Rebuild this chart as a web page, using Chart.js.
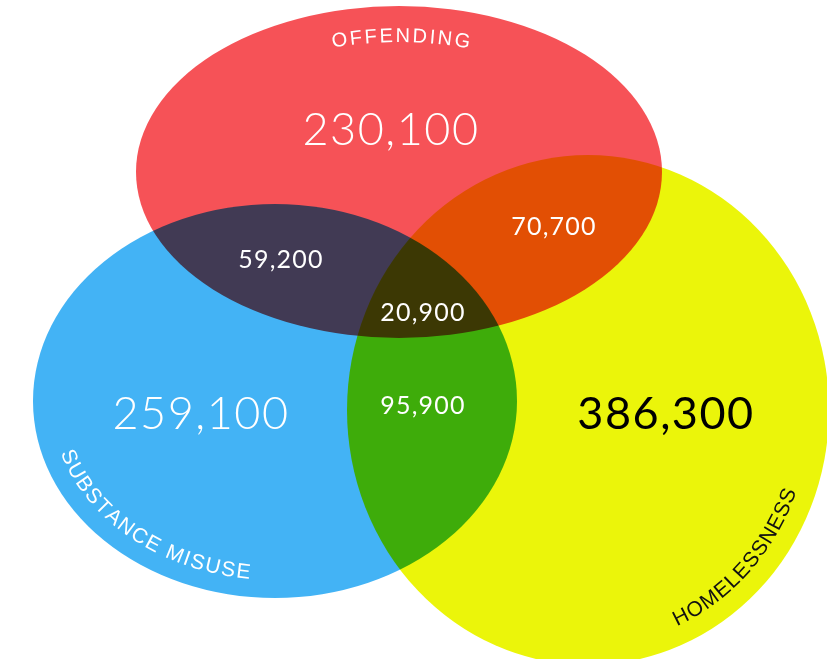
<!DOCTYPE html>
<html>
<head>
<meta charset="utf-8">
<script src="https://cdn.jsdelivr.net/npm/chart.js@4/dist/chart.umd.min.js"></script>
<style>
    body { margin: 0; background: #ffffff; }
    #venn { width: 827px; height: 659px; }
</style>
</head>
<body>
<div id="venn"><canvas id="venn-canvas" width="827" height="659"></canvas></div>
<script>
// Three-set Venn: offending / substance misuse / homelessness

const setNames = ['OFFENDING', 'SUBSTANCE MISUSE', 'HOMELESSNESS'];
const regionNames = [
    'Offending only',
    'Substance misuse only',
    'Homelessness only',
    'Offending + substance misuse',
    'Offending + homelessness',
    'Substance misuse + homelessness',
    'All three'
];
const regionCounts = [230100, 259100, 386300, 59200, 70700, 95900, 20900];

// layout (chart units = pixels of an 827x659 box)
const ellipses = [
    { cx: 399, cy: 172, rx: 263, ry: 166, color: '#f65257' },
    { cx: 275, cy: 401, rx: 242, ry: 197, color: '#43b3f5' },
    { cx: 588, cy: 410, rx: 241, ry: 255, color: '#ebf50a' }
];
const setLabelPaths = [
    { inset: 36, tMid: -89.5, bottom: false, size: 20, spacing: 2.4, color: '#ffffff' },
    { inset: 18, tMid: 128, bottom: true, size: 21, spacing: 1.6, color: '#ffffff' },
    { inset: 19, tMid: 43, bottom: true, size: 21, spacing: 1.0, color: '#111111' }
];
const regionAnchors = [
    { x: 391, y: 130, big: true, color: '#ffffff', weight: 300 },
    { x: 201, y: 414, big: true, color: '#ffffff', weight: 300 },
    { x: 666, y: 414, big: true, color: '#000000', weight: 400 },
    { x: 281, y: 260, big: false, color: '#ffffff', weight: 400 },
    { x: 554, y: 227, big: false, color: '#ffffff', weight: 400 },
    { x: 423, y: 406, big: false, color: '#ffffff', weight: 400 },
    { x: 423, y: 313, big: false, color: '#ffffff', weight: 400 }
];

function textOnEllipse(ctx, text, cx, cy, a, b, tMidDeg, bottom, spacing) {
    const dir = bottom ? -1 : 1;
    const widths = [...text].map(ch => ctx.measureText(ch).width);
    const total = widths.reduce((s, w) => s + w, 0) + spacing * (widths.length - 1);
    const speed = t => Math.sqrt(a * a * Math.sin(t) ** 2 + b * b * Math.cos(t) ** 2);
    const tMid = tMidDeg * Math.PI / 180;
    // walk along the ellipse until the arc length reaches s (signed, reading direction)
    const paramAt = s => {
        let t = tMid, acc = 0;
        const step = 0.0005 * Math.sign(s || 1) * dir;
        while (acc < Math.abs(s)) {
            acc += speed(t) * Math.abs(step);
            t += step;
        }
        return t;
    };
    ctx.textAlign = 'center';
    ctx.textBaseline = 'alphabetic';
    let pos = -total / 2;
    [...text].forEach((ch, i) => {
        const s = pos + widths[i] / 2;
        const t = paramAt(s);
        const x = cx + a * Math.cos(t);
        const y = cy + b * Math.sin(t);
        const angle = Math.atan2(dir * b * Math.cos(t), -dir * a * Math.sin(t));
        ctx.save();
        ctx.translate(x, y);
        ctx.rotate(angle);
        ctx.fillText(ch, 0, 0);
        ctx.restore();
        pos += widths[i] + spacing;
    });
}

const vennPlugin = {
    id: 'venn',
    beforeDatasetsDraw(chart) {
        const ctx = chart.ctx;
        const xs = chart.scales.x, ys = chart.scales.y;
        ctx.save();
        ctx.globalCompositeOperation = 'multiply';
        ellipses.forEach(e => {
            const cx = xs.getPixelForValue(e.cx);
            const cy = ys.getPixelForValue(e.cy);
            const rx = xs.getPixelForValue(e.cx + e.rx) - cx;
            const ry = ys.getPixelForValue(e.cy + e.ry) - cy;
            ctx.beginPath();
            ctx.ellipse(cx, cy, rx, ry, 0, 0, Math.PI * 2);
            ctx.fillStyle = e.color;
            ctx.fill();
        });
        ctx.restore();

        // set names along the inside of each outline
        setNames.forEach((name, i) => {
            const e = ellipses[i], p = setLabelPaths[i];
            const cx = xs.getPixelForValue(e.cx);
            const cy = ys.getPixelForValue(e.cy);
            const rx = xs.getPixelForValue(e.cx + e.rx - p.inset) - cx;
            const ry = ys.getPixelForValue(e.cy + e.ry - p.inset) - cy;
            ctx.save();
            ctx.font = `${p.size}px "Liberation Sans", Arial, sans-serif`;
            ctx.fillStyle = p.color;
            textOnEllipse(ctx, name, cx, cy, rx, ry, p.tMid, p.bottom, p.spacing);
            ctx.restore();
        });
    },
    afterDatasetsDraw(chart) {
        const ctx = chart.ctx;
        const meta = chart.getDatasetMeta(0);
        ctx.save();
        ctx.textAlign = 'center';
        ctx.textBaseline = 'middle';
        meta.data.forEach((pt, i) => {
            const a = regionAnchors[i];
            ctx.font = `${a.weight} ${a.big ? 45 : 25}px Lato, sans-serif`;
            ctx.letterSpacing = a.big ? '1.5px' : '1.2px';
            ctx.fillStyle = a.color;
            ctx.fillText(regionCounts[i].toLocaleString('en-US'), pt.x, pt.y);
        });
        ctx.restore();
    }
};

new Chart(document.getElementById('venn-canvas').getContext('2d'), {
    type: 'scatter',
    data: {
        labels: regionNames,
        datasets: [{
            label: 'people',
            data: regionAnchors.map(a => ({ x: a.x, y: a.y })),
            pointRadius: 0,
            pointHoverRadius: 0
        }]
    },
    options: {
        responsive: false,
        animation: false,
        layout: { padding: 0 },
        plugins: { legend: { display: false }, tooltip: { enabled: false } },
        scales: {
            x: { type: 'linear', min: 0, max: 827, display: false },
            y: { type: 'linear', min: 0, max: 659, reverse: true, display: false }
        }
    },
    plugins: [vennPlugin]
});
</script>
</body>
</html>
